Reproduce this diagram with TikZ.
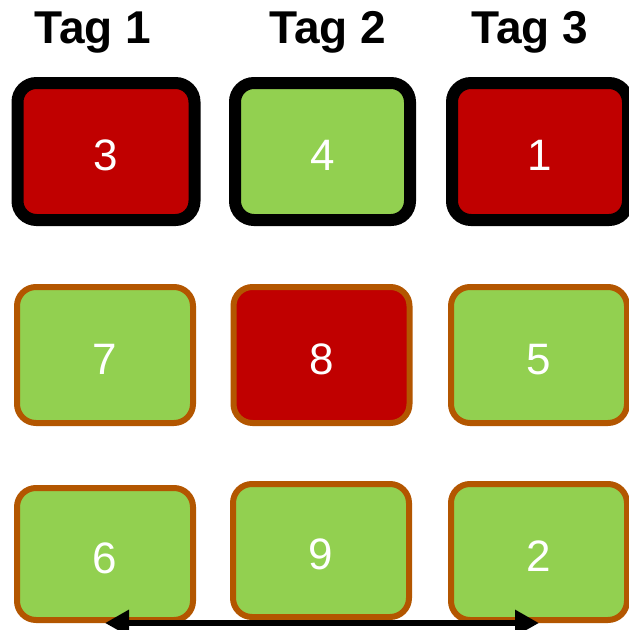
\documentclass[tikz,border=0pt]{standalone}
\usepackage{fontspec}
\setmainfont{Liberation Sans}
\usetikzlibrary{arrows.meta}

\definecolor{boxred}{HTML}{C00000}
\definecolor{boxgreen}{HTML}{92D050}
\definecolor{rimbrown}{HTML}{B35600}

\begin{document}
\begin{tikzpicture}[x=1pt,y=-1pt,
    cell/.style={rectangle, rounded corners=19pt, inner sep=0pt, minimum width=176pt,
                 minimum height=136pt, text=white, font=\fontsize{44}{44}\selectfont,
                 text height=38pt, text depth=0pt},
    pick/.style={cell, draw=black, line width=12pt},
    rest/.style={cell, draw=rimbrown, line width=6pt},
    tag node/.style={anchor=base, font=\fontsize{46}{46}\selectfont\bfseries}]

    \useasboundingbox (0,0) rectangle (629,630);

    % column heads
    \node[tag node] (T1) at (93,43) {Tag 1};
    \node[tag node] (T2) at (328,43) {Tag 2};
    \node[tag node] (T3) at (530,43) {Tag 3};

    % first row
    \node[pick, fill=boxred, minimum width=177pt, minimum height=137pt] (C11) at (106,151.5) {3};
    \node[pick, fill=boxgreen, minimum width=175pt, minimum height=137pt] (C21) at (322.5,151.5) {4};
    \node[pick, fill=boxred, minimum width=176pt, minimum height=137pt] (C31) at (540,151.5) {1};

    % second row
    \node[rest, fill=boxgreen] (C12) at (105,355) {7};
    \node[rest, fill=boxred] (C22) at (321.5,355) {8};
    \node[rest, fill=boxgreen] (C32) at (539,355) {5};

    % third row
    \node[rest, fill=boxgreen, minimum height=132pt] (C13) at (105,554) {6};
    \node[rest, fill=boxgreen, minimum height=133pt] (C23) at (321,550.5) {9};
    \node[rest, fill=boxgreen] (C33) at (539,552) {2};

    \draw[{Triangle[length=24pt,width=25pt]}-{Triangle[length=24pt,width=25pt]}, line width=6pt]
        (C13.south) -- (C33.south);

\end{tikzpicture}
\end{document}
